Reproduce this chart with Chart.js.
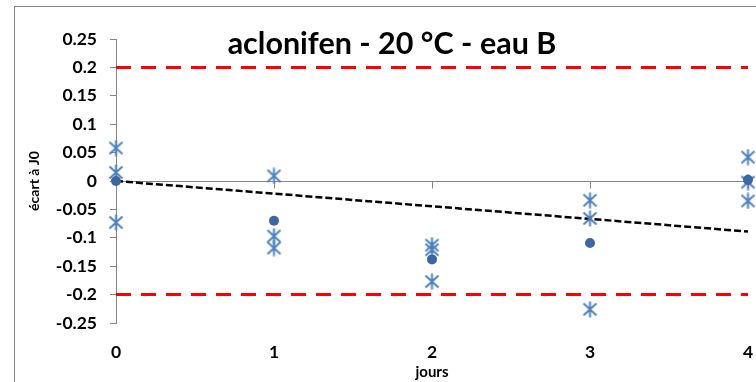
<!DOCTYPE html>
<html><head><meta charset="utf-8">
<script src="https://cdn.jsdelivr.net/npm/chart.js@4"></script>
<style>html,body{margin:0;padding:0;background:#fff;overflow:hidden}#wrap{position:relative;width:756px;height:382px}</style>
</head><body><div id="wrap"><canvas id="c" width="756" height="382"></canvas></div>
<script>
// ---- data ----
const days = [0, 1, 2, 3, 4];
const rep1 = [0.058, 0.009, -0.113, -0.034, 0.042];
const rep2 = [0.015, -0.097, -0.121, -0.066, -0.002];
const rep3 = [-0.073, -0.118, -0.177, -0.226, -0.035];
const means = [0.000, -0.070, -0.138, -0.109, 0.002];
const trendX = [0, 4];
const trendY = [0.000, -0.089];
const limitX = [0, 4];
const upperLimit = [0.2, 0.2];
const lowerLimit = [-0.2, -0.2];
const titleText = 'aclonifen - 20 °C - eau B';
const xTitle = 'jours';
const yTitle = 'écart à J0';

const pts = (xs, ys) => xs.map((x, i) => ({x: x, y: ys[i]}));

function makeAsterisk() {
  const c = document.createElement('canvas');
  c.width = 17; c.height = 17;
  const g = c.getContext('2d');
  g.strokeStyle = '#4F81BD'; g.lineWidth = 2;
  g.beginPath();
  g.moveTo(2, 2.5); g.lineTo(15, 14.5);
  g.moveTo(15, 2.5); g.lineTo(2, 14.5);
  g.moveTo(8.5, 0.5); g.lineTo(8.5, 16.5);
  g.stroke();
  return c;
}
const star = makeAsterisk();

const framePlugin = {
  id: 'frame',
  beforeDraw(ch) {
    const g = ch.ctx;
    g.save(); g.fillStyle = '#fff'; g.fillRect(0, 0, ch.width, ch.height);
    g.strokeStyle = '#868686'; g.lineWidth = 1;
    g.strokeRect(14.5, 6.5, 2000, 2000);
    g.restore();
  },
  beforeDatasetsDraw(ch) {
    const xs = ch.scales.x, ys = ch.scales.y, g = ch.ctx;
    const y0 = Math.round(ys.getPixelForValue(0)) + 0.5;
    g.save(); g.strokeStyle = '#868686'; g.lineWidth = 1;
    g.beginPath(); g.moveTo(xs.left, y0); g.lineTo(xs.right, y0);
    xs.ticks.forEach(t => { const px = Math.round(xs.getPixelForValue(t.value)) + 0.5; g.moveTo(px, y0); g.lineTo(px, y0 + 7); });
    g.stroke(); g.restore();
  }
};

const F = 'Lato, "Open Sans", sans-serif';
new Chart(document.getElementById('c'), {
  type: 'scatter',
  data: {
    datasets: [
      {label: 'moyenne', data: pts(days, means), pointStyle: 'circle', pointRadius: 5, backgroundColor: '#3C67A0', borderColor: '#3C67A0', borderWidth: 0, clip: false},
      {label: 'r1', data: pts(days, rep1), pointStyle: star, clip: false},
      {label: 'r2', data: pts(days, rep2), pointStyle: star, clip: false},
      {label: 'r3', data: pts(days, rep3), pointStyle: star, clip: false},
      {label: 'tendance', data: pts(trendX, trendY), showLine: true, pointRadius: 0, borderColor: '#000', borderWidth: 2.5, borderDash: [7, 3]},
      {label: 'lim+', data: pts(limitX, upperLimit), showLine: true, pointRadius: 0, borderColor: '#FF0000', borderWidth: 3, borderDash: [15, 10]},
      {label: 'lim-', data: pts(limitX, lowerLimit), showLine: true, pointRadius: 0, borderColor: '#FF0000', borderWidth: 3, borderDash: [15, 10]}
    ]
  },
  options: {
    responsive: false, animation: false, devicePixelRatio: 1,
    layout: {padding: {left: 36, right: 8, top: 0, bottom: 0}},
    plugins: {
      legend: {display: false}, tooltip: {enabled: false},
      title: {display: true, text: titleText, color: '#000', font: {family: F, size: 30.5, weight: 'bold'}, padding: {top: 25.5, bottom: -23.1}}
    },
    scales: {
      x: {
        type: 'linear', position: 'bottom', min: 0, max: 4,
        ticks: {stepSize: 1, color: '#000', font: {family: F, size: 17.5, weight: 'bold'}, padding: 19},
        grid: {display: false, drawTicks: false},
        border: {display: false},
        title: {display: true, text: xTitle, color: '#000', font: {family: F, size: 15, weight: 'bold'}, padding: {top: 0, bottom: 1}},
        afterFit: s => { s.height = 59; s.paddingRight = 0; s.paddingLeft = 0; }
      },
      y: {
        min: -0.25, max: 0.25,
        ticks: {stepSize: 0.05, color: '#000', font: {family: F, size: 17.5, weight: 'bold'}, padding: 13,
          callback: v => String(parseFloat(Number(v).toFixed(2)))},
        grid: {drawOnChartArea: false, color: '#868686', tickLength: 6},
        border: {color: '#868686'},
        title: {display: true, text: yTitle, color: '#000', font: {family: F, size: 14, weight: 'bold'}, padding: {top: -9.5, bottom: 0}},
        afterFit: s => { s.width = 80; }
      }
    }
  },
  plugins: [framePlugin]
});
</script>
</body></html>
